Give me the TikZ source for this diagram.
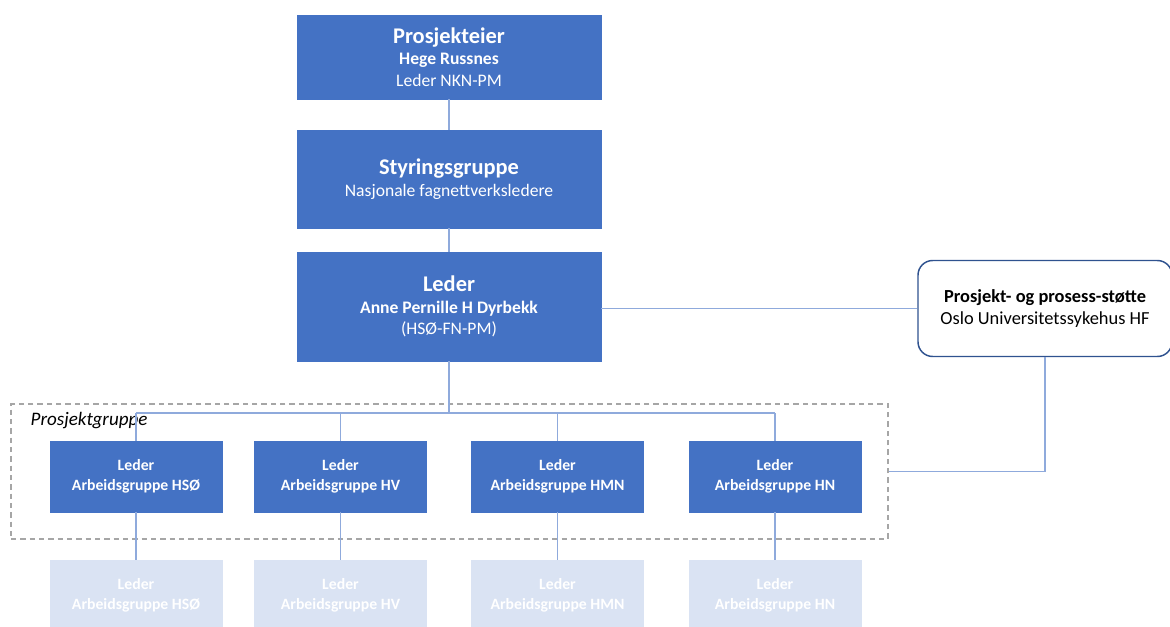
\documentclass[tikz,border=0pt]{standalone}
\usepackage{fontspec}
\setmainfont{Carlito}
\definecolor{boxblue}{HTML}{4472C4}
\definecolor{fadeblue}{HTML}{DAE3F3}
\definecolor{linkblue}{HTML}{8FAADC}
\definecolor{edgeblue}{HTML}{2F528F}
\definecolor{framegray}{HTML}{A6A6A6}
\tikzset{
  box/.style={fill=boxblue, draw=boxblue, text=white, align=center,
    minimum width=228pt, inner sep=0pt,
    font=\fontsize{13.2}{16}\selectfont\bfseries},
  groupbox/.style={fill=boxblue, draw=boxblue, text=white, align=center,
    minimum width=129pt, minimum height=53.25pt, inner sep=0pt,
    font=\fontsize{11.8}{15}\selectfont\bfseries},
  fadebox/.style={groupbox, fill=fadeblue, draw=fadeblue},
  support/.style={draw=edgeblue, line width=1.1pt, fill=white,
    rounded corners=11pt, align=center, minimum width=190.5pt,
    minimum height=72pt, inner sep=0pt,
    font=\fontsize{13.8}{16.5}\selectfont},
  frame/.style={draw=framegray, dash pattern=on 4pt off 3pt,
    line width=0.8pt, minimum width=657.75pt, minimum height=101.25pt,
    inner sep=0pt},
  link/.style={draw=linkblue, line width=0.8pt}
}
\begin{document}
\begin{tikzpicture}[x=0.75pt,y=-0.75pt]
  \useasboundingbox (0,0) rectangle (1170,627);

  % Top chain
  \node[box, minimum height=63pt] (eier) at (449,57)
  {{\fontsize{16.8}{18}\selectfont Prosjekteier}\\ Hege Russnes\\
    \mdseries Leder NKN-PM};
  \node[box, minimum height=73.5pt] (styr) at (449,179)
  {{\fontsize{16.8}{18}\selectfont Styringsgruppe}\\ \mdseries Nasjonale
    fagnettverksledere};
  \node[box, minimum height=81.75pt] (leder) at (449,306.5)
  {{\fontsize{16.8}{18}\selectfont Leder}\\ Anne Pernille H Dyrbekk\\
    \mdseries (HSØ-FN-PM)};

  \node[support] (stotte) at (1045,308.5)
  {\bfseries Prosjekt- og prosess-støtte\\ Oslo Universitetssykehus HF};

  % Project group frame
  \node[frame] (prosj) at (449.5,471.5) {};
  \node[anchor=west, font=\fontsize{14.3}{16}\selectfont\itshape]
  (prosjlabel) at (26,421) {Prosjektgruppe};
  \coordinate (bus) at (449,413);

  % Work groups and their faded copies
  \foreach \name/\x/\region in {hso/136/HSØ, hv/340.5/HV,
    hmn/557.5/HMN, hn/775/HN} {
    \node[groupbox] (\name) at (\x,476.5) {Leder\\ Arbeidsgruppe \region};
    \node[fadebox] (\name f) at (\x,595.5) {Leder\\ Arbeidsgruppe \region};
    \draw[link] (\name.south) -- (\name f.north);
    \draw[link] (\name.north) -- (\name.north |- bus);
  }

  % Connectors
  \draw[link] (eier.south) -- (styr.north);
  \draw[link] (styr.south) -- (leder.north);
  \draw[link] (leder.south) -- (bus);
  \draw[link] (hso.north |- bus) -- (hn.north |- bus);
  \draw[link] (leder.east |- stotte.west) -- (stotte.west);
  \draw[link] (stotte.south) |- (prosj.east);
\end{tikzpicture}
\end{document}
